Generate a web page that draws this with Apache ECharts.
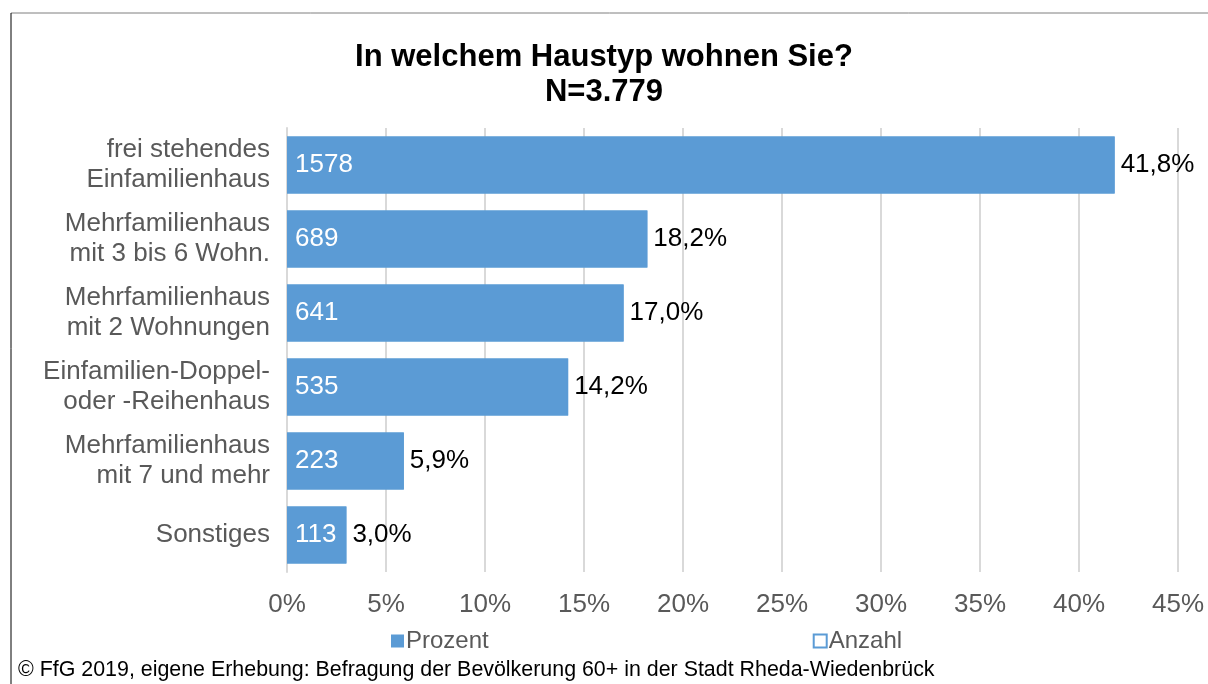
<!DOCTYPE html>
<html>
<head>
<meta charset="utf-8">
<title>Haustyp</title>
<script src="https://cdn.jsdelivr.net/npm/echarts@6/dist/echarts.min.js"></script>
<style>
    html, body { margin: 0; padding: 0; background: #fff; }
    #main { width: 1208px; height: 684px; }
</style>
</head>
<body>
<div id="main"></div>
<script>
    // Daten
    var kategorien = ['frei stehendes\nEinfamilienhaus', 'Mehrfamilienhaus\nmit 3 bis 6 Wohn.', 'Mehrfamilienhaus\nmit 2 Wohnungen', 'Einfamilien-Doppel-\noder -Reihenhaus', 'Mehrfamilienhaus\nmit 7 und mehr', 'Sonstiges'];
    var prozent = [41.8, 18.2, 17.0, 14.2, 5.9, 3.0];
    var anzahl = [1578, 689, 641, 535, 223, 113];
    var xTicks = [0, 5, 10, 15, 20, 25, 30, 35, 40, 45];

    var blau = '#5B9BD5';
    var schrift = 'Liberation Sans, Arial, sans-serif';

    var myChart = echarts.init(document.getElementById('main'));

    var option = {
        animation: false,
        textStyle: { fontFamily: schrift },
        title: {
            text: 'In welchem Haustyp wohnen Sie?\nN=3.779',
            left: 'center',
            top: 35,
            textStyle: {
                fontSize: 31,
                fontWeight: 'bold',
                color: '#000',
                lineHeight: 35,
                fontFamily: schrift
            }
        },
        legend: {
            left: 386,
            top: 624,
            itemGap: 324,
            itemWidth: 13,
            itemHeight: 13,
            icon: 'rect',
            textStyle: { fontSize: 24, color: '#595959', padding: [0, 0, 0, -3] },
            data: ['Prozent', 'Anzahl']
        },
        grid: {
            left: 287,
            right: 30,
            top: 128,
            bottom: 112
        },
        xAxis: {
            type: 'value',
            min: xTicks[0],
            max: xTicks[xTicks.length - 1],
            interval: 5,
            axisLine: { show: false },
            axisTick: { show: false },
            splitLine: { lineStyle: { color: '#D9D9D9', width: 2 } },
            axisLabel: {
                fontSize: 26,
                color: '#595959',
                margin: 20,
                formatter: '{value}%'
            }
        },
        yAxis: {
            type: 'category',
            inverse: true,
            data: kategorien,
            axisLine: { show: true, lineStyle: { color: '#D9D9D9', width: 2 } },
            axisTick: { show: false },
            axisLabel: {
                fontSize: 26,
                color: '#595959',
                lineHeight: 30,
                margin: 17,
                padding: [5, 0, 0, 0],
                align: 'right'
            }
        },
        series: [
            {
                name: 'Prozent',
                type: 'bar',
                data: prozent,
                barWidth: '77%',
                itemStyle: { color: blau },
                label: {
                    show: true,
                    position: 'right',
                    distance: 6,
                    fontSize: 26,
                    color: '#000',
                    formatter: function (p) {
                        return p.value.toFixed(1).replace('.', ',') + '%';
                    }
                }
            },
            {
                name: 'Anzahl',
                type: 'bar',
                data: prozent,
                barWidth: '77%',
                barGap: '-100%',
                itemStyle: { color: 'rgba(255,255,255,0)', borderColor: blau, borderWidth: 1.5 },
                label: {
                    show: true,
                    position: 'insideLeft',
                    distance: 8,
                    fontSize: 26,
                    color: '#fff',
                    formatter: function (p) {
                        return anzahl[p.dataIndex];
                    }
                }
            }
        ],
        graphic: [
            {
                type: 'line',
                shape: { x1: 11, y1: 13, x2: 1208, y2: 13 },
                style: { stroke: '#7F7F7F', lineWidth: 1 }
            },
            {
                type: 'line',
                shape: { x1: 11, y1: 13, x2: 11, y2: 684 },
                style: { stroke: '#000', lineWidth: 1 }
            },
            {
                type: 'text',
                left: 18,
                top: 660,
                style: {
                    text: '\u00a9 FfG 2019, eigene Erhebung: Befragung der Bev\u00f6lkerung 60+ in der Stadt Rheda-Wiedenbr\u00fcck',
                    fontSize: 21.4,
                    fill: '#000',
                    fontFamily: schrift
                }
            }
        ]
    };

    myChart.setOption(option);
</script>
</body>
</html>
